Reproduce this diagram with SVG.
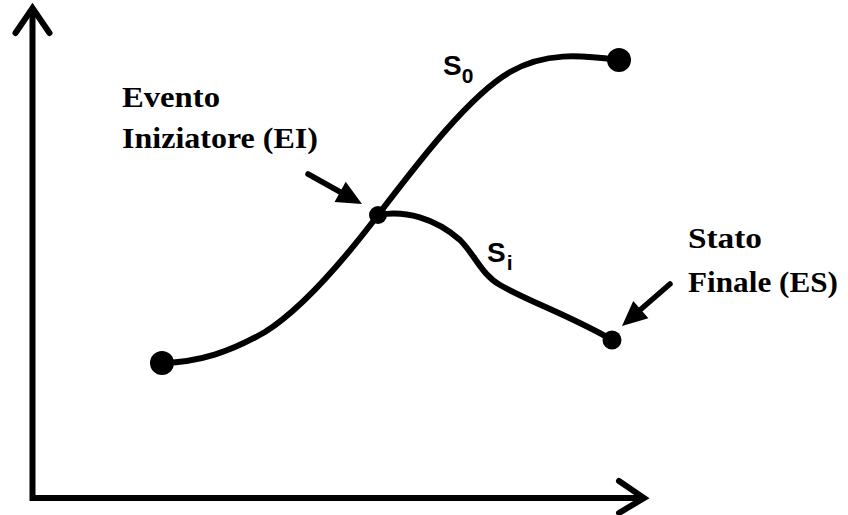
<svg xmlns="http://www.w3.org/2000/svg" width="848" height="515" viewBox="0 0 848 515">
<style>
.ax{fill:none;stroke:#000;stroke-width:6}
.chev{fill:none;stroke:#000;stroke-width:6;stroke-linejoin:miter;stroke-linecap:round}
.curve{fill:none;stroke:#000;stroke-width:6;stroke-linecap:round}
.dot{fill:#000}
.lbl{font-family:"Liberation Serif","Times New Roman",serif;font-weight:bold;font-size:30px;fill:#000}
.s{font-family:"Liberation Sans",Arial,sans-serif;font-weight:bold;font-size:28px;fill:#000}
.sub{font-family:"Liberation Sans",Arial,sans-serif;font-size:21px;fill:#000}
.ptr{stroke:#000;stroke-width:5.5;stroke-linecap:round}
.head{fill:#000}
</style>
<defs>
<path id="ah" d="M0,0 L-25,-11.5 L-25,11.5 Z"/>
</defs>
<rect width="848" height="515" fill="#fff"/>
<g id="axes">
<path class="ax" d="M32.5,10 L32.5,498 L642,498"/>
<path class="chev" d="M15.5,33 L32.5,8 L49.5,33"/>
<path class="chev" d="M619,481 L644,498 L619,513"/>
</g>
<g id="connectors">
<path id="S0-curve" class="curve" d="M162,363 C200,362 230,352 265,332 C300,310 340,265 378,215 C420,160 470,95 510,72 C545,52 580,55 618,60"/>
<path id="Si-curve" class="curve" d="M378,215 C405,210 435,218 460,240 C475,255 482,275 500,285 C530,302 575,318 612,340"/>
<line class="ptr" x1="308" y1="174" x2="342" y2="193"/>
<use href="#ah" class="head" transform="translate(362,204) rotate(29)"/>
<line class="ptr" x1="670" y1="284" x2="640" y2="310"/>
<use href="#ah" class="head" transform="translate(622,326) rotate(138.8)"/>
</g>
<g id="start"><circle class="dot" cx="162" cy="363" r="12"/></g>
<g id="end0"><circle class="dot" cx="619" cy="60" r="12"/></g>
<g id="EI"><circle class="dot" cx="378" cy="215" r="9"/></g>
<g id="ES"><circle class="dot" cx="612" cy="340" r="9.5"/></g>
<g id="label-EI">
<text class="lbl" x="122" y="107" textLength="98" lengthAdjust="spacingAndGlyphs">Evento</text>
<text class="lbl" x="122" y="148" textLength="196" lengthAdjust="spacingAndGlyphs">Iniziatore (EI)</text>
</g>
<g id="label-ES">
<text class="lbl" x="688" y="248" textLength="74" lengthAdjust="spacingAndGlyphs">Stato</text>
<text class="lbl" x="688" y="292" textLength="150" lengthAdjust="spacingAndGlyphs">Finale (ES)</text>
</g>
<g id="label-S0"><text class="s" x="443" y="75">S<tspan class="sub" dx="0" dy="8">0</tspan></text></g>
<g id="label-Si"><text class="s" x="487" y="262">S<tspan class="sub" dx="1" dy="8">i</tspan></text></g>
</svg>
